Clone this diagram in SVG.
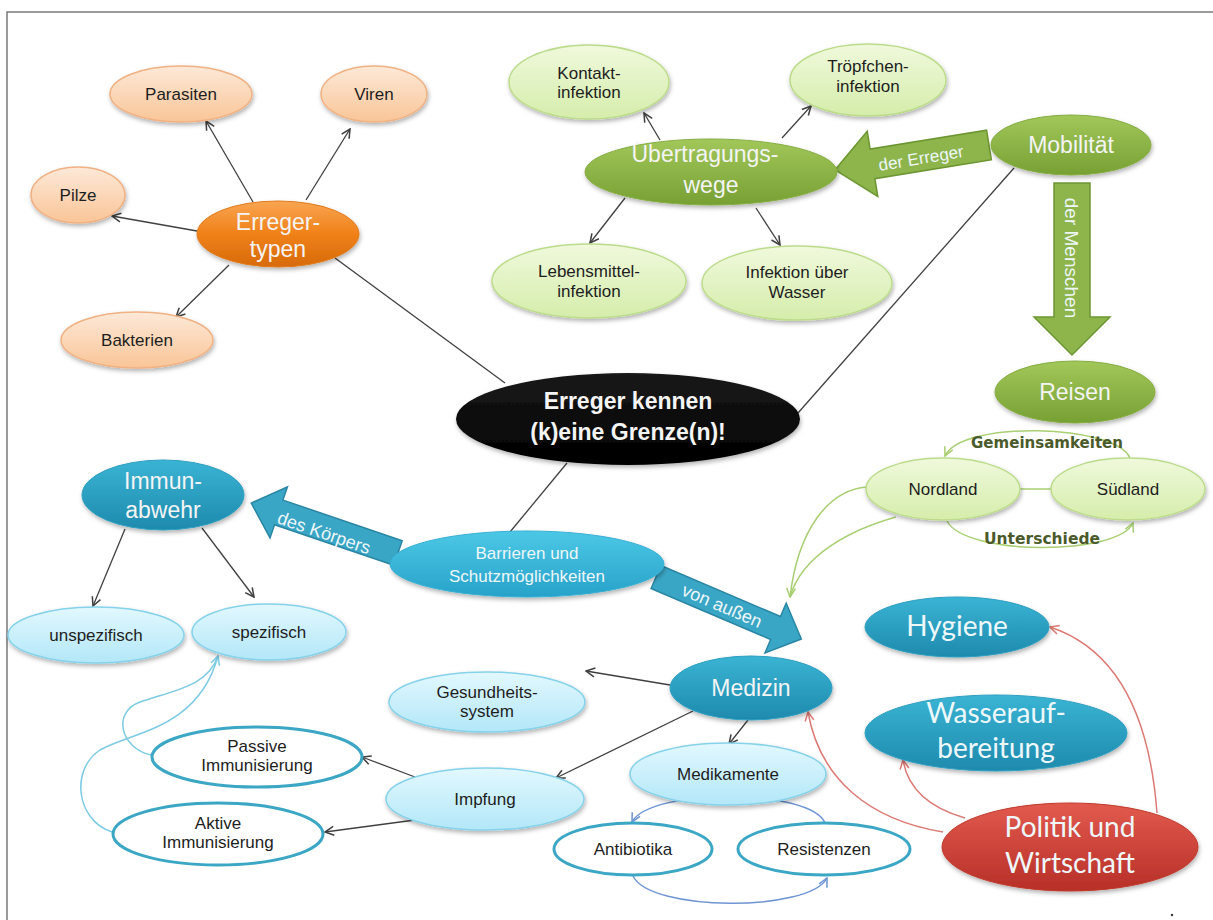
<svg xmlns="http://www.w3.org/2000/svg" width="1213" height="920" viewBox="0 0 1213 920">
<style>
.t{font-family:"Liberation Sans",Arial,sans-serif;font-size:17px;fill:#1e1e1e;text-anchor:middle}
.tb{font-family:"Liberation Sans",Arial,sans-serif;font-size:23px;fill:#f4f4f4;text-anchor:middle}
.tc{font-family:Lato,"Open Sans",sans-serif;font-size:28px;fill:#eef8fb;text-anchor:middle}
.ta{font-family:"Liberation Sans",Arial,sans-serif;fill:#eef6f8;text-anchor:middle}
.tl{font-family:"DejaVu Sans",sans-serif;font-weight:bold;font-size:15px;fill:#4a5a2a;text-anchor:middle}
.c{fill:none;stroke:#404040;stroke-width:1.3}
.cg{fill:none;stroke:#a9cf72;stroke-width:1.5}
.cb{fill:none;stroke:#7ccbe3;stroke-width:1.5}
.cr{fill:none;stroke:#dc7a74;stroke-width:1.5}
.cbl{fill:none;stroke:#6f95d4;stroke-width:1.5}
.peach{fill:url(#gPeach);stroke:#f0b284;stroke-width:1.5}
.lgreen{fill:url(#gLGreen);stroke:#bcdc8c;stroke-width:1.5}
.green{fill:url(#gGreen);stroke:#86ad42;stroke-width:1}
.lblue{fill:url(#gLBlue);stroke:#86d2ea;stroke-width:1.5}
.blue{fill:url(#gBlue);stroke:#2e9fc0;stroke-width:1}
.wt{fill:#fff;stroke:#3ca7c5;stroke-width:3}
.sh{filter:url(#shadow)}
</style>
<defs>
<filter id="shadow" x="-20%" y="-20%" width="140%" height="150%">
<feDropShadow dx="1" dy="2.5" stdDeviation="2" flood-color="#000" flood-opacity="0.3"/>
</filter>
<linearGradient id="gPeach" x1="0" y1="0" x2="0" y2="1"><stop offset="0" stop-color="#fde9d8"/><stop offset="1" stop-color="#f9c597"/></linearGradient>
<linearGradient id="gOrange" x1="0" y1="0" x2="0" y2="1"><stop offset="0" stop-color="#f8a552"/><stop offset="0.5" stop-color="#f08118"/><stop offset="1" stop-color="#d76a0b"/></linearGradient>
<linearGradient id="gLGreen" x1="0" y1="0" x2="0" y2="1"><stop offset="0" stop-color="#f0f9dc"/><stop offset="1" stop-color="#d5edab"/></linearGradient>
<linearGradient id="gGreen" x1="0" y1="0" x2="0" y2="1"><stop offset="0" stop-color="#a2c75a"/><stop offset="1" stop-color="#77a033"/></linearGradient>
<linearGradient id="gLBlue" x1="0" y1="0" x2="0" y2="1"><stop offset="0" stop-color="#e2f8fe"/><stop offset="1" stop-color="#b3e7f8"/></linearGradient>
<linearGradient id="gBlue" x1="0" y1="0" x2="0" y2="1"><stop offset="0" stop-color="#3ab4d4"/><stop offset="1" stop-color="#1e8aad"/></linearGradient>
<linearGradient id="gCyan" x1="0" y1="0" x2="0" y2="1"><stop offset="0" stop-color="#4cc8e6"/><stop offset="1" stop-color="#27a2c9"/></linearGradient>
<linearGradient id="gRed" x1="0" y1="0" x2="0" y2="1"><stop offset="0" stop-color="#e25a4e"/><stop offset="1" stop-color="#b72f28"/></linearGradient>
<linearGradient id="gBlack" x1="0" y1="0" x2="0" y2="1"><stop offset="0" stop-color="#1a1a1a"/><stop offset="1" stop-color="#000"/></linearGradient>
<marker id="ah" viewBox="0 0 10 10" refX="9" refY="5" markerWidth="11" markerHeight="11" orient="auto" markerUnits="userSpaceOnUse"><path d="M1,1 L9,5 L1,9" fill="none" stroke="#404040" stroke-width="1.4"/></marker>
<marker id="ahg" viewBox="0 0 10 10" refX="9" refY="5" markerWidth="11" markerHeight="11" orient="auto" markerUnits="userSpaceOnUse"><path d="M1,1 L9,5 L1,9" fill="none" stroke="#a9cf72" stroke-width="1.4"/></marker>
<marker id="ahb" viewBox="0 0 10 10" refX="9" refY="5" markerWidth="11" markerHeight="11" orient="auto" markerUnits="userSpaceOnUse"><path d="M1,1 L9,5 L1,9" fill="none" stroke="#7ccbe3" stroke-width="1.4"/></marker>
<marker id="ahr" viewBox="0 0 10 10" refX="9" refY="5" markerWidth="11" markerHeight="11" orient="auto" markerUnits="userSpaceOnUse"><path d="M1,1 L9,5 L1,9" fill="none" stroke="#dc7a74" stroke-width="1.4"/></marker>
<marker id="ahbl" viewBox="0 0 10 10" refX="9" refY="5" markerWidth="11" markerHeight="11" orient="auto" markerUnits="userSpaceOnUse"><path d="M1,1 L9,5 L1,9" fill="none" stroke="#6f95d4" stroke-width="1.4"/></marker>
</defs>
<rect width="1213" height="920" fill="#fff"/>
<path d="M7,920 L7,12 L1213,12" fill="none" stroke="#7a7a7a" stroke-width="1.5"/>
<circle cx="1172" cy="915" r="1.2" fill="#333"/>

<g id="connectors">
<line class="c" x1="253" y1="202" x2="206" y2="121" marker-end="url(#ah)"/>
<line class="c" x1="306" y1="200" x2="350" y2="129" marker-end="url(#ah)"/>
<line class="c" x1="197" y1="231" x2="112" y2="216" marker-end="url(#ah)"/>
<line class="c" x1="229" y1="265" x2="176" y2="317" marker-end="url(#ah)"/>
<line class="c" x1="335" y1="258" x2="505" y2="383"/>
<line class="c" x1="660" y1="140" x2="644" y2="113" marker-end="url(#ah)"/>
<line class="c" x1="782" y1="138" x2="811" y2="106" marker-end="url(#ah)"/>
<line class="c" x1="625" y1="198" x2="590" y2="243" marker-end="url(#ah)"/>
<line class="c" x1="756" y1="208" x2="780" y2="245" marker-end="url(#ah)"/>
<line class="c" x1="1014" y1="168" x2="798" y2="413"/>
<line class="c" x1="567" y1="463" x2="510" y2="532"/>
<line class="cg" x1="1020" y1="489" x2="1052" y2="489"/>
<path class="cg" d="M1130,458 C1115,424 962,420 945,456" marker-end="url(#ahg)"/>
<path class="cg" d="M947,521 C965,556 1118,556 1133,523" marker-end="url(#ahg)"/>
<path class="cg" d="M867,487 C828,490 798,530 790,597" marker-end="url(#ahg)"/>
<path class="cg" d="M896,517 C850,530 802,555 790,597"/>
<line class="c" x1="125" y1="529" x2="93" y2="606" marker-end="url(#ah)"/>
<line class="c" x1="202" y1="528" x2="254" y2="597" marker-end="url(#ah)"/>
<path class="cb" d="M151,755 C120,748 112,712 140,702 C175,690 208,686 218,656" marker-end="url(#ahb)"/>
<path class="cb" d="M112,832 C76,820 70,770 100,750 C130,732 198,730 218,656"/>
<line class="c" x1="670" y1="685" x2="586" y2="671" marker-end="url(#ah)"/>
<line class="c" x1="693" y1="711" x2="556" y2="778" marker-end="url(#ah)"/>
<line class="c" x1="748" y1="720" x2="729" y2="744" marker-end="url(#ah)"/>
<line class="c" x1="415" y1="777" x2="362" y2="757" marker-end="url(#ah)"/>
<line class="c" x1="415" y1="820" x2="325" y2="832" marker-end="url(#ah)"/>
<path class="cbl" d="M825,823 C810,788 650,788 632,822" marker-end="url(#ahbl)"/>
<path class="cbl" d="M633,876 C650,912 810,912 827,878" marker-end="url(#ahbl)"/>
<path class="cr" d="M1157,813 C1150,720 1120,650 1050,627" marker-end="url(#ahr)"/>
<path class="cr" d="M965,818 C930,808 908,790 903,760" marker-end="url(#ahr)"/>
<path class="cr" d="M943,832 C870,820 820,780 808,712" marker-end="url(#ahr)"/>
<g id="arrow-der-erreger">
<polygon transform="translate(989,145) rotate(170.8)" points="0,-15 118,-15 118,-33 156,0 118,33 118,15 0,15" fill="#8db54c" stroke="#6d9632" stroke-width="1.5"/>
<text class="ta" font-size="17" transform="translate(921,158) rotate(-9.5)" y="6" fill="#f2f7e6">der Erreger</text>
</g>
<g id="arrow-der-menschen">
<polygon points="1054,183 1090,183 1090,317 1110,317 1072,355 1034,317 1054,317" fill="#8db54c" stroke="#6d9632" stroke-width="1.5"/>
<text class="ta" font-size="19" transform="translate(1072,258) rotate(90)" y="7" fill="#f2f7e6">der Menschen</text>
</g>
<g id="arrow-des-koerpers">
<polygon transform="translate(398,553) rotate(198.8)" points="0,-13 126,-13 126,-27 155,0 126,27 126,13 0,13" fill="#3aa6c6" stroke="#2a86a4" stroke-width="1.5"/>
<text class="ta" font-size="18" transform="translate(324,533) rotate(19)" y="6">des Körpers</text>
</g>
<g id="arrow-von-aussen">
<polygon transform="translate(656,577) rotate(23.1)" points="0,-12.5 130,-12.5 130,-27 158,0 130,27 130,12.5 0,12.5" fill="#3aa6c6" stroke="#2a86a4" stroke-width="1.5"/>
<text class="ta" font-size="18" transform="translate(722,606) rotate(23.1)" y="6">von außen</text>
</g>
</g>

<g id="n-parasiten"><ellipse class="peach sh" cx="181" cy="94" rx="71" ry="28"/><text class="t" x="181" y="100">Parasiten</text></g>
<g id="n-viren"><ellipse class="peach sh" cx="374" cy="94" rx="53" ry="28"/><text class="t" x="374" y="100">Viren</text></g>
<g id="n-pilze"><ellipse class="peach sh" cx="78" cy="195" rx="47" ry="28"/><text class="t" x="78" y="201">Pilze</text></g>
<g id="n-bakterien"><ellipse class="peach sh" cx="137" cy="340" rx="76" ry="28"/><text class="t" x="137" y="346">Bakterien</text></g>
<g id="n-erregertypen"><ellipse class="sh" cx="278" cy="234" rx="81" ry="33" fill="url(#gOrange)" stroke="#e07a1a"/><text class="tb" x="278" y="230" fill="#fde9d9">Erreger-</text><text class="tb" x="278" y="257" fill="#fde9d9">typen</text></g>

<g id="n-kontakt"><ellipse class="lgreen sh" cx="589" cy="82" rx="80" ry="37"/><text class="t" x="589" y="79">Kontakt-</text><text class="t" x="589" y="98">infektion</text></g>
<g id="n-troepfchen"><ellipse class="lgreen sh" cx="868" cy="80" rx="78" ry="36"/><text class="t" x="868" y="72">Tröpfchen-</text><text class="t" x="868" y="92">infektion</text></g>
<g id="n-lebensmittel"><ellipse class="lgreen sh" cx="589" cy="281" rx="97" ry="37"/><text class="t" x="589" y="277">Lebensmittel-</text><text class="t" x="589" y="297">infektion</text></g>
<g id="n-wasser"><ellipse class="lgreen sh" cx="797" cy="283" rx="95" ry="37"/><text class="t" x="797" y="278">Infektion über</text><text class="t" x="797" y="298">Wasser</text></g>
<g id="n-uebertragungswege"><ellipse class="green sh" cx="711" cy="172" rx="126" ry="33"/><text class="tb" x="705" y="162" font-size="26" fill="#f2f7e6">Übertragungs-</text><text class="tb" x="711" y="193" font-size="26" fill="#f2f7e6">wege</text></g>
<g id="n-mobilitaet"><ellipse class="green sh" cx="1071" cy="145" rx="80" ry="30"/><text class="tb" x="1071" y="153" fill="#f2f7e6">Mobilität</text></g>
<g id="n-reisen"><ellipse class="green sh" cx="1075" cy="392" rx="80" ry="31"/><text class="tb" x="1075" y="400" font-size="19" fill="#f2f7e6">Reisen</text></g>
<g id="n-nordland"><ellipse class="lgreen sh" cx="943" cy="489" rx="77" ry="31"/><text class="t" x="943" y="495">Nordland</text></g>
<g id="n-suedland"><ellipse class="lgreen sh" cx="1128" cy="489" rx="77" ry="31"/><text class="t" x="1128" y="495">Südland</text></g>
<text class="tl" x="1047" y="448" textLength="152" lengthAdjust="spacingAndGlyphs">Gemeinsamkeiten</text>
<text class="tl" x="1042" y="544" textLength="116" lengthAdjust="spacingAndGlyphs">Unterschiede</text>

<g id="n-center"><ellipse class="sh" cx="628" cy="419" rx="172" ry="46" fill="url(#gBlack)"/><text class="tb" x="628" y="409" font-size="25.5" font-weight="bold" fill="#f2f2f2">Erreger kennen</text><text class="tb" x="628" y="440" font-size="25.5" font-weight="bold" fill="#f2f2f2">(k)eine Grenze(n)!</text></g>
<g id="n-barrieren"><ellipse class="sh" cx="527" cy="564" rx="137" ry="33" fill="url(#gCyan)" stroke="#36b0d4"/><text class="ta" font-size="17" x="527" y="559" fill="#def4fb">Barrieren und</text><text class="ta" font-size="17" x="527" y="582" fill="#def4fb">Schutzmöglichkeiten</text></g>

<g id="n-immunabwehr"><ellipse class="blue sh" cx="163" cy="495" rx="81" ry="35"/><text class="tb" x="163" y="489" fill="#e4f5fa">Immun-</text><text class="tb" x="163" y="518" fill="#e4f5fa">abwehr</text></g>
<g id="n-unspezifisch"><ellipse class="lblue sh" cx="96" cy="635" rx="88" ry="28"/><text class="t" x="96" y="641">unspezifisch</text></g>
<g id="n-spezifisch"><ellipse class="lblue sh" cx="269" cy="632" rx="77" ry="28"/><text class="t" x="269" y="638">spezifisch</text></g>
<g id="n-passive"><ellipse class="wt" cx="257" cy="757" rx="105" ry="30"/><text class="t" x="257" y="752">Passive</text><text class="t" x="257" y="771">Immunisierung</text></g>
<g id="n-aktive"><ellipse class="wt" cx="218" cy="834" rx="105" ry="31"/><text class="t" x="218" y="829">Aktive</text><text class="t" x="218" y="848">Immunisierung</text></g>

<g id="n-gesundheitssystem"><ellipse class="lblue sh" cx="487" cy="702" rx="98" ry="30"/><text class="t" x="487" y="698">Gesundheits-</text><text class="t" x="487" y="717">system</text></g>
<g id="n-medizin"><ellipse class="blue sh" cx="751" cy="688" rx="81" ry="32"/><text class="tb" x="751" y="696" fill="#e4f5fa">Medizin</text></g>
<g id="n-impfung"><ellipse class="lblue sh" cx="485" cy="799" rx="99" ry="31"/><text class="t" x="485" y="805">Impfung</text></g>
<g id="n-medikamente"><ellipse class="lblue sh" cx="728" cy="774" rx="98" ry="31"/><text class="t" x="728" y="780">Medikamente</text></g>
<g id="n-antibiotika"><ellipse class="wt" cx="633" cy="849" rx="79" ry="26"/><text class="t" x="633" y="855">Antibiotika</text></g>
<g id="n-resistenzen"><ellipse class="wt" cx="824" cy="849" rx="86" ry="26"/><text class="t" x="824" y="855">Resistenzen</text></g>

<g id="n-hygiene"><ellipse class="blue sh" cx="957" cy="627" rx="92" ry="30"/><text class="tc" x="957" y="636">Hygiene</text></g>
<g id="n-wasseraufbereitung"><ellipse class="blue sh" cx="996" cy="733" rx="131" ry="38"/><text class="tc" x="996" y="723" font-size="27">Wasserauf-</text><text class="tc" x="996" y="758" font-size="27">bereitung</text></g>
<g id="n-politik"><ellipse class="sh" cx="1070" cy="847" rx="128" ry="44" fill="url(#gRed)" stroke="#c0392b"/><text class="tc" x="1070" y="837" fill="#fbeceb">Politik und</text><text class="tc" x="1070" y="873" fill="#fbeceb">Wirtschaft</text></g>
</svg>
